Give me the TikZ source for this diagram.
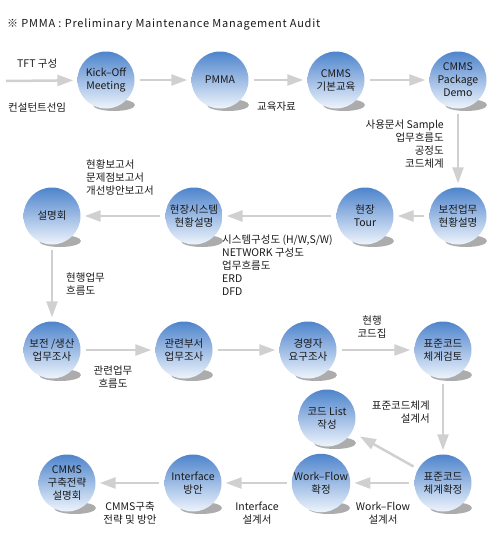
\documentclass[tikz,border=0pt]{standalone}
\usepackage{fontspec}
\setmainfont{Noto Sans CJK KR}
\usetikzlibrary{arrows.meta,positioning,calc,backgrounds}
\definecolor{balltop}{RGB}{78,132,204}
\definecolor{ballbot}{RGB}{238,244,252}
\definecolor{flow}{RGB}{208,208,208}
\definecolor{ink}{RGB}{25,25,25}
\tikzset{
  every picture/.style={font=\fontsize{10.5}{13}\selectfont},
  ball/.style={circle,minimum size=57pt,inner sep=0pt,align=center,top color=balltop,bottom color=ballbot,text=ink},
  note/.style={align=left,text=ink,inner sep=0pt},
  flowto/.style={flow,line width=2.5pt,-{Triangle[length=16pt,width=11pt]},shorten <=5pt,shorten >=4pt},
  ground/.style={gray!65},
}

\begin{document}
\begin{tikzpicture}[x=1pt,y=-1pt]
  \useasboundingbox (0,0) rectangle (500,550);
  \node[note,anchor=west,font=\fontsize{11}{13}\selectfont\addfontfeature{LetterSpace=7}] (title) at (7,24) {※ PMMA : Preliminary Maintenance Management Audit};

  \node[ball] (kick) at (106,80) {Kick–Off\\Meeting};
  \node[ball] (pmma) at (220,80) {PMMA};
  \node[ball] (edu) at (336,80) {CMMS\\기본교육};
  \node[ball] (demo) at (458,80) {CMMS\\Package\\Demo};
  \node[ball] (bojeon) at (458,216) {보전업무\\현황설명};
  \node[ball] (tour) at (365,216) {현장\\Tour};
  \node[ball] (site) at (194,216) {현장시스템\\현황설명};
  \node[ball] (brief) at (52,216) {설명회};
  \node[ball] (survey) at (52,350) {보전 /생산\\업무조사};
  \node[ball] (dept) at (184,350) {관련부서\\업무조사};
  \node[ball] (ceo) at (308,350) {경영자\\요구조사};
  \node[ball] (review) at (443,350) {표준코드\\체계검토};
  \node[ball] (codelist) at (327,418) {코드 List\\작성};
  \node[ball] (fix) at (443,483) {표준코드\\체계확정};
  \node[ball] (wflow) at (321,483) {Work–Flow\\확정};
  \node[ball] (iface) at (193,483) {Interface\\방안};
  \node[ball] (plan) at (67,483) {CMMS\\구축전략\\설명회};

  \begin{scope}[on background layer]
    \foreach \b in {kick,pmma,edu,demo,bojeon,tour,site,brief,survey,dept,ceo,review,codelist,fix,wflow,iface,plan}
      \fill[ground] ($(\b)+(8,25)$) ellipse (21 and 6);
  \end{scope}

  \coordinate (start) at (6,81);
  \draw[flowto,shorten <=0pt] (start) -- (kick);
  \draw[flowto] (kick) -- (pmma);
  \draw[flowto] (pmma) -- (edu);
  \draw[flowto] (edu) -- (demo);
  \draw[flowto] (demo) -- (bojeon);
  \draw[flowto] (bojeon) -- (tour);
  \draw[flowto] (tour) -- (site);
  \draw[flowto] (site) -- (brief);
  \draw[flowto] (brief) -- (survey);
  \draw[flowto] (survey) -- (dept);
  \draw[flowto] (dept) -- (ceo);
  \draw[flowto] (ceo) -- (review);
  \draw[flowto] (review) -- (fix);
  \draw[flowto,shorten >=9pt] (fix) -- (codelist);
  \draw[flowto] (fix) -- (wflow);
  \draw[flowto] (wflow) -- (iface);
  \draw[flowto] (iface) -- (plan);

  \node[note,anchor=west] (tft) at (17,64) {TFT 구성};
  \node[note,anchor=west] (consult) at (8,107) {컨설턴트선임};
  \node[note,anchor=west] (material) at (257,107) {교육자료};
  \node[note,align=right,anchor=north east] (docs) at (444,120) {사용문서 Sample\\업무흐름도\\공정도\\코드체계};
  \node[note,anchor=west] (reports) at (86,178) {현황보고서\\문제점보고서\\개선방안보고서};
  \node[note,anchor=west] (sysdocs) at (222,265) {시스템구성도 (H/W,S/W)\\NETWORK 구성도\\업무흐름도\\ERD\\DFD};
  \node[note,anchor=west] (curflow) at (66,284) {현행업무\\흐름도};
  \node[note,align=center] (relflow) at (113,377) {관련업무\\흐름도};
  \node[note,align=center] (curcode) at (372,327) {현행\\코드집};
  \node[note,align=right,anchor=east] (stddoc) at (430,412) {표준코드체계\\설계서};
  \node[note,align=center] (stratdoc) at (130,513) {CMMS구축\\전략 및 방안};
  \node[note,align=center] (ifdoc) at (257,513) {Interface\\설계서};
  \node[note,align=center] (wfdoc) at (383,513) {Work–Flow\\설계서};
\end{tikzpicture}
\end{document}
